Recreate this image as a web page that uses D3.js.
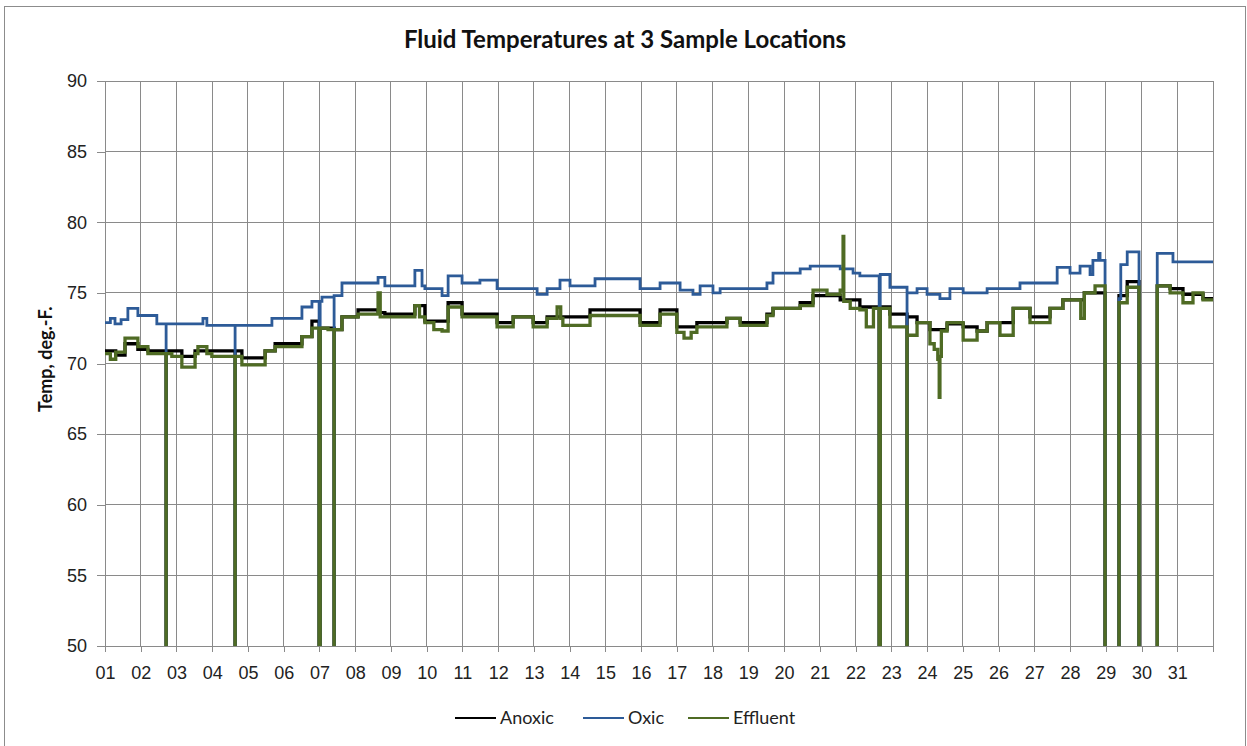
<!DOCTYPE html>
<html>
<head>
<meta charset="utf-8">
<script src="https://cdnjs.cloudflare.com/ajax/libs/d3/7.8.5/d3.min.js"></script>
<style>
  body { margin: 0; background: #fff; }
  svg { font-family: Lato, "Open Sans", sans-serif; }
  .grid line { stroke: #8a8a8a; stroke-width: 1; shape-rendering: crispEdges; }
  .axis path, .axis line { stroke: #8a8a8a; shape-rendering: crispEdges; }
  .axis text { font-size: 18px; fill: #222; }
</style>
</head>
<body>
<svg id="chart" width="1247" height="746"></svg>
<script>
// day-of-month tick labels
const dayLabels = ["01","02","03","04","05","06","07","08","09","10","11","12","13","14","15","16",
                   "17","18","19","20","21","22","23","24","25","26","27","28","29","30","31"];
const tempTicks = [50, 55, 60, 65, 70, 75, 80, 85, 90];

// [day, deg F] step readings, values below 50 are sensor drop-outs
const anoxic = [
  [1.00,70.9],[1.30,70.6],[1.56,71.4],[1.92,71.0],[2.20,70.9],[2.71,40],[2.71,70.9],[3.15,70.5],
  [3.52,70.9],[3.99,70.9],[4.64,40],[4.64,70.9],[4.83,70.4],[5.48,70.9],[5.76,71.4],[6.51,71.9],
  [6.79,73.0],[6.99,40],[7.02,72.5],[7.41,40],[7.41,72.4],[7.63,73.3],[8.08,73.8],[8.64,73.6],
  [8.83,73.5],[9.67,74.1],[9.95,73.0],[10.60,74.3],[10.99,73.5],[11.97,72.9],[12.42,73.3],
  [12.98,72.9],[13.37,73.3],[14.57,73.8],[15.97,72.9],[16.53,73.8],[17.00,72.6],[17.56,72.9],
  [18.40,73.2],[18.77,72.9],[19.52,73.5],[19.69,73.9],[20.45,74.3],[20.81,74.8],[21.57,74.5],
  [22.12,74.0],[22.66,40],[22.69,74.0],[22.96,73.5],[23.44,40],[23.44,73.3],[23.72,72.9],
  [24.08,72.4],[24.56,72.8],[25.01,72.6],[25.40,72.3],[25.68,72.9],[26.41,73.9],[26.88,73.3],
  [27.44,73.9],[27.80,74.5],[28.40,75.0],[28.98,40],[29.37,74.8],[29.60,75.8],[29.93,40],
  [30.44,75.5],[30.80,75.3],[31.16,74.9],[31.72,74.6],[32.00,74.6]
];
const oxic = [
  [1.00,72.9],[1.15,73.2],[1.28,72.8],[1.45,73.1],[1.64,73.9],[1.92,73.4],[2.45,72.8],[2.71,40],
  [2.71,72.8],[3.74,73.2],[3.85,72.7],[4.64,40],[4.64,72.7],[5.67,73.2],[6.51,74.0],[6.79,74.4],
  [6.99,40],[7.02,74.4],[7.07,74.7],[7.41,40],[7.41,74.8],[7.63,75.7],[8.64,76.1],[8.83,75.5],
  [9.67,76.6],[9.87,75.5],[9.95,75.3],[10.43,74.8],[10.60,76.2],[10.99,75.7],[11.49,75.9],
  [11.97,75.3],[13.09,74.9],[13.37,75.3],[13.73,75.9],[14.01,75.5],[14.71,76.0],[15.97,75.3],
  [16.53,75.7],[17.09,75.2],[17.45,74.9],[17.65,75.5],[18.01,75.0],[18.21,75.3],[19.52,75.7],
  [19.69,76.4],[20.45,76.7],[20.73,76.9],[21.57,76.7],[21.93,76.4],[22.12,76.2],[22.66,40],
  [22.69,76.3],[22.96,75.4],[23.44,40],[23.44,75.0],[23.72,75.3],[24.00,74.9],[24.36,74.6],
  [24.64,75.3],[25.01,75.0],[25.68,75.3],[26.60,75.7],[27.64,76.8],[28.00,76.4],[28.28,76.9],
  [28.56,76.3],[28.64,77.3],[28.80,77.8],[28.84,77.3],[28.98,40],[29.37,74.6],[29.42,77.0],
  [29.60,77.9],[29.93,40],[30.44,77.8],[30.88,77.2],[32.00,77.2]
];
const effluent = [
  [1.00,70.7],[1.15,70.3],[1.30,70.8],[1.56,71.8],[1.92,71.2],[2.20,70.7],[2.71,40],[2.71,70.7],
  [2.87,70.5],[3.15,69.75],[3.52,70.7],[3.60,71.2],[3.85,70.7],[3.99,70.5],[4.64,40],[4.64,70.5],
  [4.83,69.9],[5.48,70.9],[5.76,71.2],[6.51,71.9],[6.79,72.5],[6.99,40],[7.02,72.5],[7.24,72.4],
  [7.41,40],[7.41,72.4],[7.63,73.3],[8.08,73.5],[8.64,75.0],[8.70,73.3],[9.67,74.1],[9.80,73.3],
  [9.95,72.9],[10.20,72.4],[10.43,72.3],[10.60,74.0],[10.99,73.3],[11.97,72.6],[12.42,73.3],
  [12.98,72.6],[13.37,73.2],[13.65,74.0],[13.75,73.2],[13.81,72.7],[14.57,73.4],[15.97,72.7],
  [16.53,73.5],[17.00,72.2],[17.20,71.8],[17.40,72.2],[17.56,72.6],[18.40,73.2],[18.77,72.7],
  [19.52,73.4],[19.69,73.9],[20.45,74.1],[20.81,75.2],[21.20,74.9],[21.57,75.2],[21.65,79.0],
  [21.67,74.4],[21.85,73.9],[22.12,73.8],[22.30,72.6],[22.50,73.9],[22.66,40],[22.69,73.9],
  [22.96,72.6],[23.44,40],[23.44,72.0],[23.72,72.9],[24.08,71.4],[24.20,71.0],[24.30,70.3],
  [24.34,67.6],[24.36,70.5],[24.40,72.3],[24.56,72.9],[25.01,71.65],[25.40,72.3],[25.68,72.9],
  [26.04,72.0],[26.41,73.9],[26.88,72.9],[27.44,73.9],[27.80,74.5],[28.30,73.2],[28.40,75.0],
  [28.70,75.5],[28.98,40],[29.37,74.3],[29.60,75.4],[29.93,40],[30.44,75.5],[30.80,75.0],
  [31.16,74.3],[31.44,75.0],[31.72,74.5],[32.00,74.5]
];

const seriesNames = ["Anoxic", "Oxic", "Effluent"];
const seriesColors = ["#000000", "#2d5b98", "#4f6b24"];
const seriesData = [anoxic, oxic, effluent];

(() => {
  const svg = d3.select("svg#chart"),
        margin = {top: 81, right: 34, bottom: 100, left: 105},
        width = +svg.attr("width") - margin.left - margin.right,
        height = +svg.attr("height") - margin.top - margin.bottom;

  // outer chart frame
  svg.append("rect")
    .attr("x", 4.5).attr("y", 6.5)
    .attr("width", 1241).attr("height", 745)
    .attr("fill", "none").attr("stroke", "#8c8c8c");

  svg.append("text")
    .attr("x", 625).attr("y", 48)
    .attr("text-anchor", "middle")
    .attr("font-size", 24).attr("font-weight", "bold").attr("fill", "#111")
    .text("Fluid Temperatures at 3 Sample Locations");

  // SCALES
  const x = d3.scaleLinear().domain([1, 32]).range([0, width]);
  const y = d3.scaleLinear().domain([50, 90]).range([height, 0]);

  const g = svg.append("g").attr("transform", `translate(${margin.left},${margin.top})`);

  // gridlines
  g.append("g").attr("class", "grid")
    .selectAll("line.h").data(tempTicks).enter().append("line")
      .attr("x1", 0).attr("x2", width)
      .attr("y1", d => y(d)).attr("y2", d => y(d));
  g.append("g").attr("class", "grid")
    .selectAll("line.v").data(d3.range(2, 33)).enter().append("line")
      .attr("x1", d => x(d)).attr("x2", d => x(d))
      .attr("y1", 0).attr("y2", height);

  // AXIS
  g.append("g").attr("class", "axis")
    .attr("transform", `translate(0,${height})`)
    .call(d3.axisBottom(x).tickValues(d3.range(1, 33)).tickSize(6).tickPadding(14)
      .tickFormat((d, i) => dayLabels[i] || ""));
  g.append("g").attr("class", "axis")
    .call(d3.axisLeft(y).tickValues(tempTicks).tickSize(8).tickPadding(10))
    .call(a => a.select(".domain").remove());
  g.append("line").attr("x1", 0.5).attr("x2", 0.5).attr("y1", 0).attr("y2", height)
    .attr("stroke", "#8a8a8a");

  svg.append("text")
    .attr("transform", `translate(52,${margin.top + y(70.3)}) rotate(-90)`)
    .attr("text-anchor", "middle")
    .attr("font-size", 18).attr("font-weight", "bold").attr("fill", "#111")
    .text("Temp, deg.-F.");

  // LINES
  g.append("clipPath").attr("id", "plot-clip")
    .append("rect").attr("width", width).attr("height", height);

  const line = d3.line()
    .x(d => x(d[0]))
    .y(d => y(d[1]))
    .curve(d3.curveStepAfter);

  g.append("g").attr("clip-path", "url(#plot-clip)")
    .selectAll("path").data(seriesData).enter().append("path")
      .attr("fill", "none")
      .attr("stroke", (d, i) => seriesColors[i])
      .attr("stroke-width", (d, i) => i === 1 ? 2.8 : 3.3)
      .attr("d", line);

  // LEGEND
  const legendX = [455, 583, 688];
  const legend = svg.append("g").attr("transform", "translate(0,718)");
  const items = legend.selectAll("g").data(seriesNames).enter().append("g")
    .attr("transform", (d, i) => `translate(${legendX[i]},0)`);
  items.append("line")
    .attr("x1", 0).attr("x2", 41).attr("y1", 0).attr("y2", 0)
    .attr("stroke", (d, i) => seriesColors[i]).attr("stroke-width", 2);
  items.append("text")
    .attr("x", 45).attr("y", 6)
    .attr("font-size", 18).attr("fill", "#222")
    .text(d => d);
})();
</script>
</body>
</html>
